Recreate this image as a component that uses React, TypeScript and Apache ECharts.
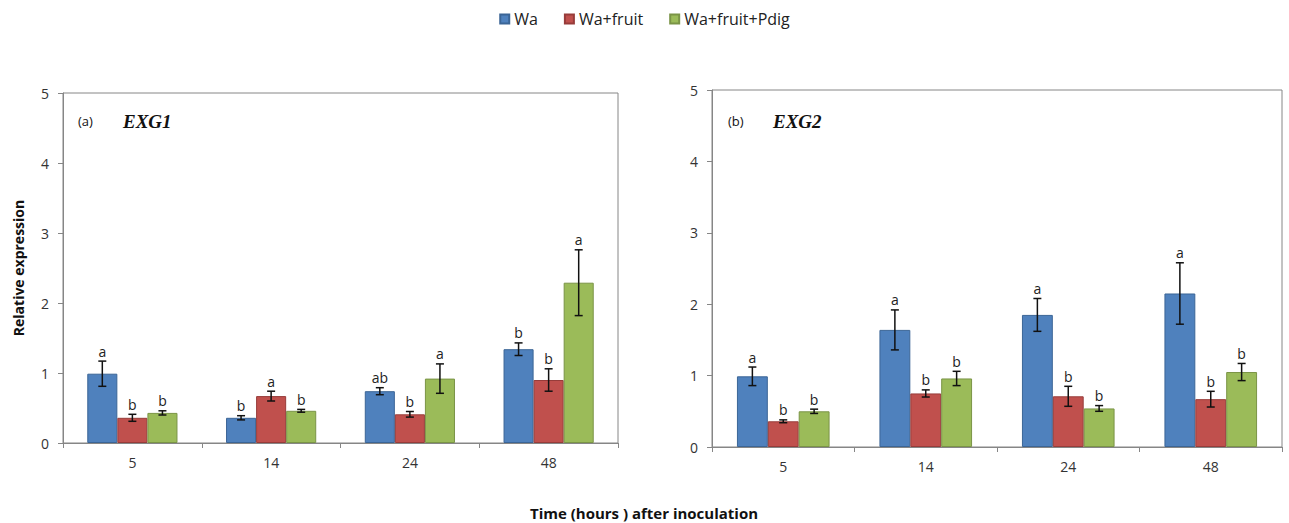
import React, { useEffect, useRef } from "react";
import * as echarts from "echarts";

const categories = ["5", "14", "24", "48"];
const seriesNames = ["Wa", "Wa+fruit", "Wa+fruit+Pdig"];
const colors = ["#4F81BD", "#C0504D", "#9BBB59"];
const borders = ["#3B6596", "#973C3A", "#7A9446"];

// Panel (a) EXG1
const exg1Wa = [0.99, 0.36, 0.74, 1.34];
const exg1Fruit = [0.36, 0.67, 0.41, 0.9];
const exg1Pdig = [0.43, 0.46, 0.92, 2.29];
const exg1WaErr = [0.18, 0.03, 0.05, 0.09];
const exg1FruitErr = [0.05, 0.07, 0.04, 0.16];
const exg1PdigErr = [0.03, 0.02, 0.21, 0.47];
const exg1WaLet = ["a", "b", "ab", "b"];
const exg1FruitLet = ["b", "a", "b", "b"];
const exg1PdigLet = ["b", "b", "a", "a"];

// Panel (b) EXG2
const exg2Wa = [0.99, 1.64, 1.85, 2.15];
const exg2Fruit = [0.36, 0.75, 0.71, 0.67];
const exg2Pdig = [0.5, 0.96, 0.54, 1.05];
const exg2WaErr = [0.13, 0.28, 0.23, 0.43];
const exg2FruitErr = [0.02, 0.05, 0.14, 0.11];
const exg2PdigErr = [0.03, 0.1, 0.04, 0.12];
const exg2WaLet = ["a", "a", "a", "a"];
const exg2FruitLet = ["b", "b", "b", "b"];
const exg2PdigLet = ["b", "b", "b", "b"];

const yTicks = [0, 1, 2, 3, 4, 5];

const FONT = "'Open Sans', 'Noto Sans', sans-serif";
const GAP = 0.35;

function errSeries(panel: number, k: number, vals: number[], errs: number[], letters: string[]) {
  return {
    type: "custom",
    xAxisIndex: panel,
    yAxisIndex: panel,
    z: 5,
    silent: true,
    data: vals.map((v, i) => [i, v, errs[i]]),
    renderItem: (params: any, api: any) => {
      const cat = api.value(0);
      const v = api.value(1);
      const e = api.value(2);
      const c = api.coord([cat, v]);
      const catW = api.size([1, 0])[0];
      const bw = (catW * (1 - GAP)) / 3;
      const x = c[0] + (k - 1) * bw;
      const top = api.coord([cat, v + e])[1];
      const bot = api.coord([cat, v - e])[1];
      const cap = 4;
      const st = { stroke: "#111", lineWidth: 1.5 };
      return {
        type: "group",
        children: [
          { type: "line", shape: { x1: x, y1: top, x2: x, y2: bot }, style: st },
          { type: "line", shape: { x1: x - cap, y1: top, x2: x + cap, y2: top }, style: st },
          { type: "line", shape: { x1: x - cap, y1: bot, x2: x + cap, y2: bot }, style: st },
          {
            type: "text",
            x: x,
            y: top - 3,
            style: {
              text: letters[params.dataIndex],
              fill: "#222",
              font: `14px ${FONT}`,
              textAlign: "center",
              textVerticalAlign: "bottom",
            },
          },
        ],
      };
    },
  };
}

function barSeries(panel: number, k: number, vals: number[]) {
  return {
    type: "bar",
    name: seriesNames[k],
    xAxisIndex: panel,
    yAxisIndex: panel,
    data: vals,
    barGap: "0%",
    barCategoryGap: GAP * 100 + "%",
    itemStyle: { color: colors[k], borderColor: borders[k], borderWidth: 1 },
  };
}

export default function App() {
  const ref = useRef<HTMLDivElement>(null);
  useEffect(() => {
    document.body.style.margin = "0";
    const chart = echarts.init(ref.current!, null, { renderer: "svg" });
    const axisLine = { lineStyle: { color: "#868686", width: 1 } };
    const xAxis = (gi: number) => ({
      type: "category",
      gridIndex: gi,
      data: categories,
      axisLine,
      axisTick: { show: true, length: 5, lineStyle: { color: "#868686" } },
      axisLabel: { color: "#333", fontSize: 14, fontFamily: FONT, margin: 12 },
    });
    const yAxis = (gi: number) => ({
      type: "value",
      gridIndex: gi,
      min: 0,
      max: 5,
      interval: 1,
      axisLine: { show: true, ...axisLine },
      axisTick: { show: true, length: 5, lineStyle: { color: "#868686" } },
      splitLine: { show: false },
      axisLabel: { color: "#333", fontSize: 14, fontFamily: FONT, margin: 14, formatter: (v: number) => (yTicks.includes(v) ? String(v) : "") },
    });
    chart.setOption({
      animation: false,
      backgroundColor: "#fff",
      legend: {
        top: 6,
        left: "center",
        itemWidth: 9,
        itemHeight: 9,
        itemGap: 26,
        icon: "rect",
        data: seriesNames,
        textStyle: { fontSize: 16, fontFamily: FONT, color: "#222" },
      },
      grid: [
        { left: 63, right: 671, top: 93, bottom: 80, show: true, borderColor: "#868686", borderWidth: 1, backgroundColor: "transparent" },
        { left: 712, right: 7, top: 90, bottom: 76, show: true, borderColor: "#868686", borderWidth: 1, backgroundColor: "transparent" },
      ],
      xAxis: [xAxis(0), xAxis(1)],
      yAxis: [yAxis(0), yAxis(1)],
      graphic: [
        { type: "text", x: 78, y: 114, style: { text: "(a)", font: `13px ${FONT}`, fill: "#111" } },
        { type: "text", x: 123, y: 112, style: { text: "EXG1", font: "italic bold 19px 'Liberation Serif', serif", fill: "#111" } },
        { type: "text", x: 728, y: 114, style: { text: "(b)", font: `13px ${FONT}`, fill: "#111" } },
        { type: "text", x: 773, y: 112, style: { text: "EXG2", font: "italic bold 19px 'Liberation Serif', serif", fill: "#111" } },
        {
          type: "text",
          x: 18,
          y: 268,
          rotation: Math.PI / 2,
          style: { text: "Relative expression", font: `bold 14px ${FONT}`, fill: "#111", textAlign: "center", textVerticalAlign: "middle" },
        },
        {
          type: "text",
          x: 644,
          y: 513,
          style: { text: "Time (hours ) after inoculation", font: `bold 15px ${FONT}`, fill: "#111", textAlign: "center", textVerticalAlign: "middle" },
        },
      ],
      series: [
        barSeries(0, 0, exg1Wa),
        barSeries(0, 1, exg1Fruit),
        barSeries(0, 2, exg1Pdig),
        barSeries(1, 0, exg2Wa),
        barSeries(1, 1, exg2Fruit),
        barSeries(1, 2, exg2Pdig),
        errSeries(0, 0, exg1Wa, exg1WaErr, exg1WaLet),
        errSeries(0, 1, exg1Fruit, exg1FruitErr, exg1FruitLet),
        errSeries(0, 2, exg1Pdig, exg1PdigErr, exg1PdigLet),
        errSeries(1, 0, exg2Wa, exg2WaErr, exg2WaLet),
        errSeries(1, 1, exg2Fruit, exg2FruitErr, exg2FruitLet),
        errSeries(1, 2, exg2Pdig, exg2PdigErr, exg2PdigLet),
      ],
    });
    return () => chart.dispose();
  }, []);
  return <div ref={ref} style={{ width: 1289, height: 523 }} />;
}
